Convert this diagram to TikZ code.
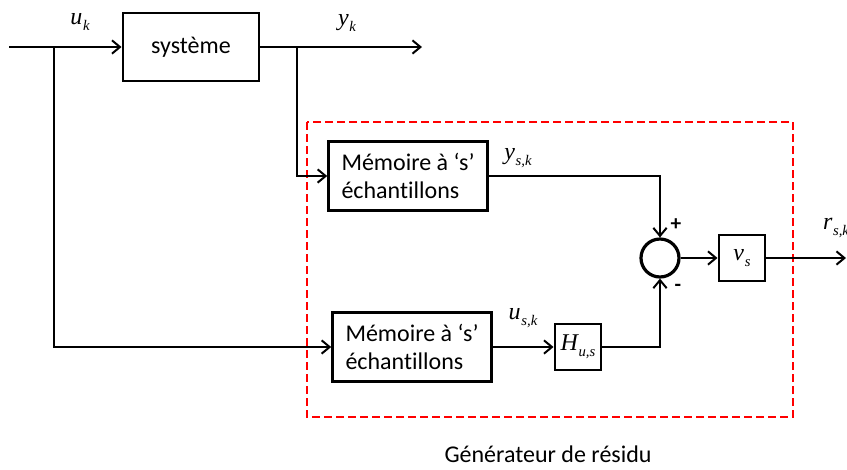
\documentclass[tikz,border=0pt]{standalone}
\usepackage{fontspec}
\setmainfont{Carlito}[RawFeature=-liga]
\newfontfamily\tms{Liberation Serif}
\usetikzlibrary{arrows.meta}
\newcommand\vlab[2]{{\tms\itshape #1\hspace{0.5pt}\raisebox{-4.5pt}{\fontsize{11}{12}\selectfont #2}}}
\begin{document}
\begin{tikzpicture}[x=0.75pt,y=-0.75pt,
  font=\fontsize{18}{21.6}\selectfont,
  blk/.style={draw,line width=2.2pt,inner sep=0pt,align=left},
  memo/.style={blk,minimum width=119pt,minimum height=52pt},
  sq/.style={blk,minimum width=34.5pt,minimum height=34.5pt,align=center},
  wire/.style={line width=1.5pt},
  arr/.style={wire,-{Straight Barb[length=6pt,width=10pt,line width=1.5pt]}},
  lbl/.style={inner sep=0pt,font=\fontsize{18}{20}\selectfont},
  sgn/.style={inner sep=0pt,font=\fontsize{16}{18}\selectfont\bfseries}]
\useasboundingbox (0,0) rectangle (847,469);
% dashed residual generator frame
\draw[red,line width=2.2pt,dash pattern=on 6pt off 3pt] (307,122) rectangle (793,417);
\node[inner sep=0pt] (gen) at (548,454) {Générateur de résidu};
% blocks
\node[blk,minimum width=102pt,minimum height=51pt,align=center] (sys) at (191,47) {système};
\node[memo] (mem1) at (408,176) {Mémoire à ‘s’\\échantillons};
\node[memo] (mem2) at (412,347) {Mémoire à ‘s’\\échantillons};
\node[sq] (H) at (578,347) {\vlab{H}{u,s}};
\node[draw,circle,line width=2.4pt,minimum size=28.5pt,inner sep=0pt] (sum) at (660,258) {};
\node[sq] (vs) at (742,258) {\vlab{v}{s}};
% coordinates
\coordinate (in) at (9,47);
\coordinate (b1) at (54,47);
\coordinate (b2) at (297,47);
\coordinate (out) at (422,47);
\coordinate (rout) at (846,258);
% connectors
\draw[arr] (in) -- (sys.west);
\draw[arr] (sys.east) -- (out);
\draw[arr] (b1) |- (mem2.west);
\draw[arr] (b2) |- (mem1.west);
\draw[arr] (mem1.east) -| (sum.north);
\draw[arr] (mem2.east) -- (H.west);
\draw[arr] (H.east) -| (sum.south);
\draw[arr] (sum.east) -- (vs.west);
\draw[arr] (vs.east) -- (rout);
% labels
\node[lbl] (luk) at (80,22) {\vlab{u}{k}};
\node[lbl] (lyk) at (347,23) {\vlab{y}{k}};
\node[lbl] (lysk) at (518,158) {\vlab{y}{s,k}};
\node[lbl] (lusk) at (523,318) {\vlab{u}{s,k}};
\node[lbl] (lrsk) at (836,228) {\vlab{r}{s,k}};
\node[sgn] (plus) at (676,225) {+};
\node[sgn] (minus) at (678,288) {-};
\end{tikzpicture}
\end{document}
